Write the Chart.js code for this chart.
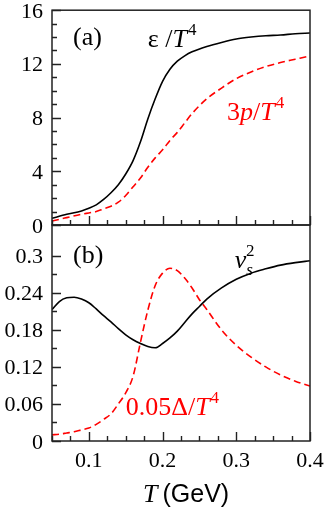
<!DOCTYPE html>
<html><head><meta charset="utf-8">
<script src="https://cdn.jsdelivr.net/npm/chart.js@4.4.1/dist/chart.umd.min.js"></script>
<style>
html,body{margin:0;padding:0;background:#fff;}
#wrap{position:relative;width:327px;height:507px;}
.box{position:absolute;left:0;width:327px;}
#boxA{top:0;height:240px;}
#boxB{top:214px;height:293px;}
</style></head><body>
<div id="wrap">
<div class="box" id="boxA"><canvas id="chartA"></canvas></div>
<div class="box" id="boxB"><canvas id="chartB"></canvas></div>
</div>
<script>
// panel (a): energy density and pressure
const tempA    = [0.05,0.07,0.09,0.10,0.11,0.12,0.13,0.14,0.15,0.16,0.17,0.18,0.19,0.20,0.21,0.22,0.23,0.24,0.26,0.28,0.30,0.32,0.34,0.36,0.38,0.40];
const energy   = [0.5,0.8,1.05,1.25,1.5,1.9,2.4,3.0,3.8,4.8,6.2,7.9,9.4,10.7,11.6,12.2,12.6,12.9,13.3,13.6,13.85,14.0,14.1,14.15,14.25,14.3];
const pressure = [0.3,0.55,0.8,0.9,1.0,1.2,1.4,1.7,2.2,2.85,3.5,4.3,5.0,5.6,6.3,6.9,7.6,8.3,9.4,10.2,10.9,11.4,11.8,12.1,12.35,12.6];
// panel (b): speed of sound and trace anomaly
const tempB        = [0.05,0.06,0.07,0.08,0.09,0.10,0.11,0.12,0.13,0.14,0.15,0.16,0.17,0.18,0.19,0.20,0.21,0.22,0.23,0.24,0.25,0.26,0.28,0.30,0.32,0.34,0.36,0.38,0.40];
const soundSpeed   = [0.213,0.226,0.232,0.233,0.230,0.224,0.214,0.203,0.193,0.182,0.172,0.164,0.158,0.153,0.151,0.158,0.167,0.178,0.192,0.206,0.218,0.230,0.248,0.262,0.272,0.279,0.285,0.289,0.292];
const traceAnomaly = [0.010,0.011,0.013,0.015,0.018,0.021,0.027,0.035,0.044,0.060,0.078,0.105,0.160,0.212,0.252,0.272,0.280,0.276,0.264,0.248,0.229,0.213,0.180,0.155,0.136,0.120,0.107,0.097,0.089];
// tick labels
const xLabels  = [0.1,0.2,0.3,0.4];
const yLabelsA = [0,4,8,12,16];
const yLabelsB = [0,0.06,0.12,0.18,0.24,0.3];

const SERIF = '"Liberation Serif", serif';
const SANS = '"Liberation Sans", sans-serif';
const TICKFONT = '22px ' + SERIF;

function pts(xs, ys){ return xs.map((x,i)=>({x:x, y:ys[i]})); }
function isMult(v, step){ const r = v/step; return Math.abs(r - Math.round(r)) < 1e-6; }
function fmt(v){ return String(parseFloat(v.toFixed(3))); }

// frame, inward ticks and tick labels
const frame = {
  id: 'frame',
  afterDatasetsDraw(chart, args, o){
    const {ctx, chartArea: a, scales} = chart;
    ctx.save();
    ctx.strokeStyle = '#222';
    ctx.lineWidth = 1.4;
    ctx.beginPath();
    scales.x.ticks.forEach(t => {
      const v = t.value;
      if (!isMult(v, o.xMinor)) return;
      const px = Math.round(scales.x.getPixelForValue(v)) + 0.5;
      const len = isMult(v, o.xMajor) ? 9 : 5;
      ctx.moveTo(px, a.bottom); ctx.lineTo(px, a.bottom - len);
    });
    scales.y.ticks.forEach(t => {
      const v = t.value;
      if (!isMult(v, o.yMinor)) return;
      const py = Math.round(scales.y.getPixelForValue(v)) + 0.5;
      const len = isMult(v, o.yMajor) ? 9 : 5;
      ctx.moveTo(a.left, py); ctx.lineTo(a.left + len, py);
    });
    ctx.stroke();
    ctx.lineWidth = 1.5;
    ctx.strokeRect(a.left, a.top, a.right - a.left, a.bottom - a.top);

    ctx.fillStyle = '#000';
    ctx.font = TICKFONT;
    ctx.textBaseline = 'alphabetic';
    ctx.textAlign = 'right';
    o.yLabels.forEach(v => {
      ctx.fillText(fmt(v), a.left - 9, scales.y.getPixelForValue(v) + 7.5);
    });
    ctx.textAlign = 'center';
    (o.xLabels || []).forEach(v => {
      ctx.fillText(v.toFixed(1), scales.x.getPixelForValue(v), a.bottom + 26);
    });
    ctx.restore();
  }
};

const notes = {
  id: 'notes',
  afterDraw(chart, args, o){
    const {ctx, scales} = chart;
    ctx.save();
    ctx.textBaseline = 'alphabetic';
    ctx.textAlign = 'left';
    (o.items || []).forEach(n => {
      let x = scales.x.getPixelForValue(n.x);
      const y = scales.y.getPixelForValue(n.y);
      ctx.fillStyle = n.color;
      n.parts.forEach(p => {
        ctx.font = p.f;
        x += p.dx || 0;
        ctx.fillText(p.t, x, y + (p.dy || 0));
        x += ctx.measureText(p.t).width;
      });
    });
    ctx.restore();
  }
};

const big = '26px ' + SERIF, bigI = 'italic 26px ' + SERIF, sup = '17px ' + SERIF, supI = 'italic 17px ' + SERIF;

new Chart(document.getElementById('chartA'), {
  type: 'line',
  data: {
    datasets: [
      {data: pts(tempA, energy), borderColor: '#000', borderWidth: 1.6, fill: false},
      {data: pts(tempA, pressure), borderColor: '#ff0000', borderWidth: 1.6, borderDash: [7,4], fill: false}
    ]
  },
  options: {
    responsive: true, maintainAspectRatio: false, animation: false,
    layout: {padding: {top: 10, right: 17, bottom: 15, left: 0}},
    elements: {point: {radius: 0}, line: {cubicInterpolationMode: 'monotone'}},
    scales: {
      x: {type: 'linear', min: 0.05, max: 0.4,
          ticks: {stepSize: 0.025, autoSkip: false, callback: () => ''},
          grid: {display: false}, border: {display: false},
          afterFit: s => { s.height = 0; }},
      y: {min: 0, max: 16,
          ticks: {stepSize: 1, autoSkip: false, callback: () => ''},
          grid: {display: false}, border: {display: false},
          afterFit: s => { s.width = 52; }}
    },
    plugins: {
      legend: {display: false}, tooltip: {enabled: false},
      frame: {xMinor: 0.025, xMajor: 0.1, yMinor: 1, yMajor: 4, yLabels: yLabelsA},
      notes: {items: [
        {x: 0.0785, y: 13.4, color: '#000', parts: [{t: '(a)', f: big}]},
        {x: 0.180, y: 13.24, color: '#000', parts: [{t: 'ε', f: big}, {t: ' /', f: big}, {t: 'T', f: bigI}, {t: '4', f: sup, dy: -12, dx: 1}]},
        {x: 0.2875, y: 7.8, color: '#ff0000', parts: [{t: '3', f: big}, {t: 'p', f: bigI}, {t: '/', f: big}, {t: 'T', f: bigI}, {t: '4', f: sup, dy: -12, dx: 1}]}
      ]}
    }
  },
  plugins: [frame, notes]
});

new Chart(document.getElementById('chartB'), {
  type: 'line',
  data: {
    datasets: [
      {data: pts(tempB, soundSpeed), borderColor: '#000', borderWidth: 1.6, fill: false},
      {data: pts(tempB, traceAnomaly), borderColor: '#ff0000', borderWidth: 1.6, borderDash: [7,4], fill: false}
    ]
  },
  options: {
    responsive: true, maintainAspectRatio: false, animation: false,
    layout: {padding: {top: 11, right: 17, bottom: 0, left: 0}},
    elements: {point: {radius: 0}, line: {cubicInterpolationMode: 'monotone'}},
    scales: {
      x: {type: 'linear', min: 0.05, max: 0.4,
          ticks: {stepSize: 0.025, autoSkip: false, maxRotation: 0, callback: () => ''},
          grid: {display: false}, border: {display: false},
          afterFit: s => { s.height = 66; }},
      y: {min: 0, max: 0.35,
          ticks: {stepSize: 0.03, autoSkip: false, callback: () => ''},
          grid: {display: false}, border: {display: false},
          afterFit: s => { s.width = 52; }}
    },
    plugins: {
      legend: {display: false}, tooltip: {enabled: false},
      frame: {xMinor: 0.025, xMajor: 0.1, yMinor: 0.03, yMajor: 0.06, yLabels: yLabelsB, xLabels: xLabels},
      notes: {items: [
        {x: 0.0785, y: 0.289, color: '#000', parts: [{t: '(b)', f: big}]},
        {x: 0.298, y: 0.2806, color: '#000', parts: [{t: 'v', f: bigI}, {t: 's', f: supI, dy: 7}, {t: '2', f: sup, dy: -12, dx: -7}]},
        {x: 0.150, y: 0.042, color: '#ff0000', parts: [{t: '0.05Δ/', f: big}, {t: 'T', f: bigI}, {t: '4', f: sup, dy: -12, dx: 1}]},
        {x: 0.1735, y: -0.099, color: '#000', parts: [{t: 'T', f: bigI}, {t: '(GeV)', f: '25px ' + SANS, dx: 5}]}
      ]}
    }
  },
  plugins: [frame, notes]
});
</script>
</body></html>
